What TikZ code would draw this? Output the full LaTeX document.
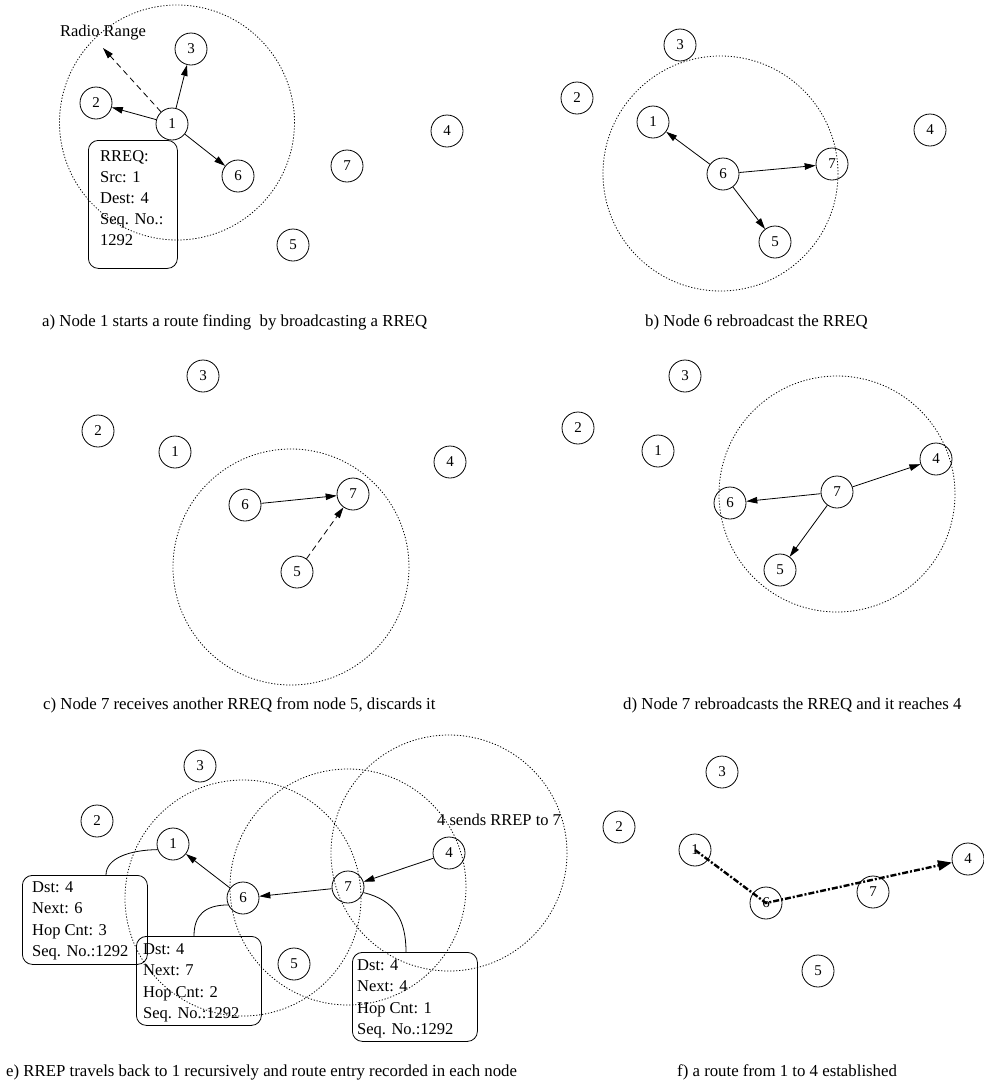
\documentclass[tikz,border=0pt]{standalone}
\usepackage{fontspec}
\setmainfont{Liberation Serif}
\usetikzlibrary{arrows.meta}
\begin{document}
\begin{tikzpicture}[x=1pt,y=-1pt,
  nd/.style={circle,draw,line width=0.8pt,minimum size=32pt,inner sep=0pt,font=\fontsize{15}{15}\selectfont},
  rng/.style={draw,line width=0.8pt,dash pattern=on 1.2pt off 1.8pt},
  arr/.style={line width=0.8pt,-{Triangle[length=11pt,width=6.5pt]}},
  darr/.style={arr,dash pattern=on 6pt off 4pt},
  pkt/.style={draw,line width=0.8pt,rounded corners=10pt,minimum width=125pt,minimum height=89pt,anchor=north west,inner sep=0pt},
  pkttxt/.style={align=left,anchor=north west,inner sep=0pt,font=\fontsize{16.5}{21.2}\selectfont},
  lbl/.style={inner sep=0pt,font=\fontsize{16.5}{20}\selectfont},
  captext/.style={inner sep=0pt,anchor=west,font=\fontsize{16.8}{20}\selectfont},
  link/.style={line width=0.8pt},
  route/.style={line width=2.4pt,dash pattern=on 6pt off 2pt on 2pt off 2pt,-{Triangle[length=14pt,width=10pt]}}
]
\useasboundingbox (0,0) rectangle (984,1085);

% ---------- panel a ----------
\node[nd] (n1a) at (172,124) {1};
\node[nd] (n2a) at (96,103) {2};
\node[nd] (n3a) at (191,49) {3};
\node[nd] (n4a) at (447,131) {4};
\node[nd] (n5a) at (293,245) {5};
\node[nd] (n6a) at (238,176) {6};
\node[nd] (n7a) at (347,166) {7};
\draw[rng] (177,122.5) circle[radius=117.5];
\node[lbl] (rr) at (103,33) {Radio Range};
\coordinate (rrtip) at (103,48);
\draw[darr] (n1a) -- (rrtip);
\draw[arr] (n1a) -- (n2a);
\draw[arr] (n1a) -- (n3a);
\draw[arr] (n1a) -- (n6a);
\node[pkt,minimum width=89pt,minimum height=128pt] (boxa) at (88,140) {};
\node[pkttxt] (boxat) at (100,150) {RREQ:\\Src: 1\\Dest: 4\\Seq. No.:\\1292};
\node[captext] (capa) at (42,322) {a) Node 1 starts a route finding~ by broadcasting a RREQ};

% ---------- panel b ----------
\node[nd] (n1b) at (653,122) {1};
\node[nd] (n2b) at (577,98) {2};
\node[nd] (n3b) at (680,45) {3};
\node[nd] (n4b) at (930,130) {4};
\node[nd] (n5b) at (775,242) {5};
\node[nd] (n6b) at (723,174) {6};
\node[nd] (n7b) at (832,164) {7};
\draw[rng] (720.5,173.5) circle[radius=117.5];
\draw[arr] (n6b) -- (n1b);
\draw[arr] (n6b) -- (n7b);
\draw[arr] (n6b) -- (n5b);
\node[captext] (capb) at (645,322) {b) Node 6 rebroadcast the RREQ};

% ---------- panel c ----------
\node[nd] (n1c) at (175,452) {1};
\node[nd] (n2c) at (98,431) {2};
\node[nd] (n3c) at (203,376) {3};
\node[nd] (n4c) at (450,462) {4};
\node[nd] (n5c) at (297,572) {5};
\node[nd] (n6c) at (245,505) {6};
\node[nd] (n7c) at (353,494) {7};
\draw[rng] (291,567) circle[radius=118];
\draw[arr] (n6c) -- (n7c);
\draw[darr] (n5c) -- (n7c);
\node[captext] (capc) at (43,705) {c) Node 7 receives another RREQ from node 5, discards it};

% ---------- panel d ----------
\node[nd] (n1d) at (658,451) {1};
\node[nd] (n2d) at (578,428) {2};
\node[nd] (n3d) at (685,376) {3};
\node[nd] (n4d) at (936,459) {4};
\node[nd] (n5d) at (780,570) {5};
\node[nd] (n6d) at (730,503) {6};
\node[nd] (n7d) at (837,492) {7};
\draw[rng] (837,494) circle[radius=118];
\draw[arr] (n7d) -- (n6d);
\draw[arr] (n7d) -- (n4d);
\draw[arr] (n7d) -- (n5d);
\node[captext] (capd) at (623,705) {d) Node 7 rebroadcasts the RREQ and it reaches 4};

% ---------- panel e ----------
\node[nd] (n1e) at (173,844) {1};
\node[nd] (n2e) at (97,821) {2};
\node[nd] (n3e) at (200,766) {3};
\node[nd] (n4e) at (449,853) {4};
\node[nd] (n5e) at (294,964) {5};
\node[nd] (n6e) at (243,898) {6};
\node[nd] (n7e) at (348,887) {7};
\draw[rng] (n6e.center) circle[radius=118];
\draw[rng] (n7e.center) circle[radius=118];
\draw[rng] (n4e.center) circle[radius=118];
\node[lbl,anchor=west] (sends) at (437,820) {4 sends RREP to 7};
\draw[arr] (n4e) -- (n7e);
\draw[arr] (n7e) -- (n6e);
\draw[arr] (n6e) -- (n1e);
\node[pkt] (boxe1) at (22,875) {};
\node[pkttxt] (boxe1t) at (32,881.7) {Dst: 4\\Next: 6\\Hop Cnt: 3\\Seq. No.:1292};
\node[pkt] (boxe2) at (136,936) {};
\node[pkttxt] (boxe2t) at (143,943.7) {Dst: 4\\Next: 7\\Hop Cnt: 2\\Seq. No.:1292};
\node[pkt] (boxe3) at (352,952) {};
\node[pkttxt] (boxe3t) at (357,959.7) {Dst: 4\\Next: 4\\Hop Cnt: 1\\Seq. No.:1292};
\coordinate (c1) at (106,875);
\coordinate (c2) at (194,936);
\coordinate (c3) at (406,952);
\draw[link] (n1e.200) .. controls (130,850) and (106,858) .. (c1);
\draw[link] (n6e.205) .. controls (205,905) and (194,915) .. (c2);
\draw[link] (n7e.-20) .. controls (395,900) and (406,920) .. (c3);
\node[captext] (cape) at (6,1072) {e) RREP travels back to 1 recursively and route entry recorded in each node};

% ---------- panel f ----------
\node[nd] (n1f) at (695,850) {1};
\node[nd] (n2f) at (619,827) {2};
\node[nd] (n3f) at (722,772) {3};
\node[nd] (n4f) at (968,859) {4};
\node[nd] (n5f) at (818,971) {5};
\node[nd] (n6f) at (766,903) {6};
\node[nd] (n7f) at (873,892) {7};
\draw[route] (n1f.center) -- (n6f.center) -- (n4f);
\node[captext] (capf) at (677,1072) {f) a route from 1 to 4 established};
\end{tikzpicture}
\end{document}
